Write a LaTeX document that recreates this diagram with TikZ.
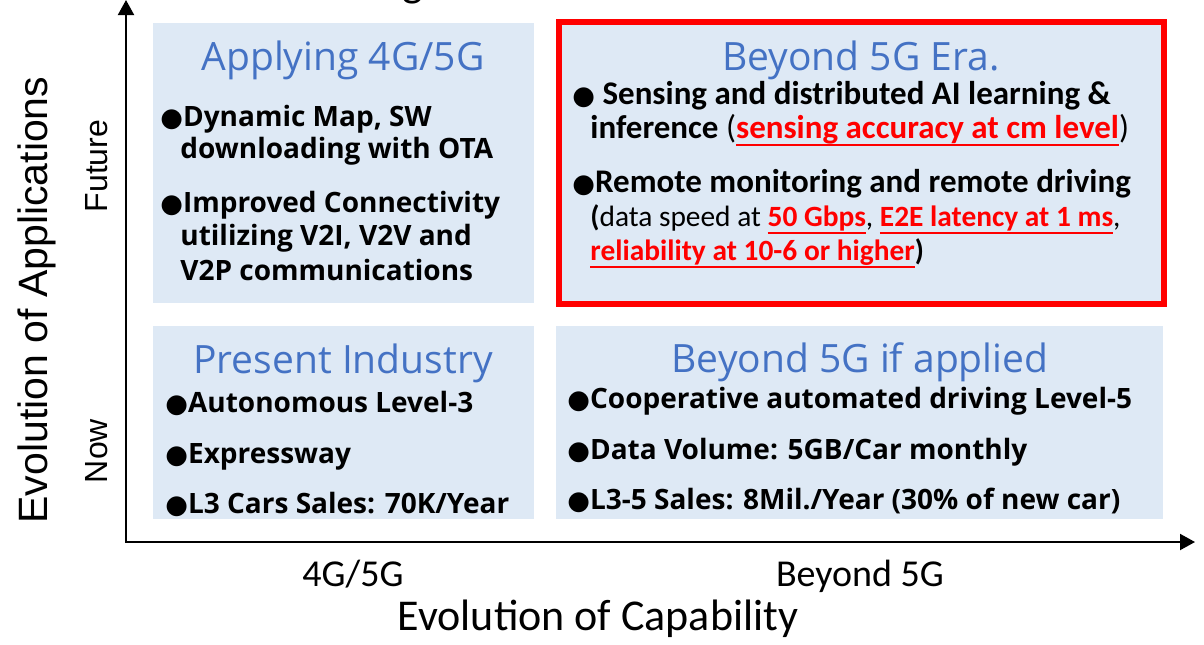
\documentclass[tikz,border=0pt]{standalone}
\usepackage{fontspec}
\usetikzlibrary{arrows.meta,fit}
\setmainfont{Open Sans}
\newfontfamily\calib{Carlito}
\newfontfamily\arialf{Liberation Sans}
\newfontfamily\symf{DejaVu Sans}
\definecolor{boxfill}{RGB}{222,233,245}
\definecolor{titleblue}{RGB}{68,114,196}
\definecolor{hot}{RGB}{255,0,0}
\newcommand\bul{{\symf\fontsize{13}{13}\selectfont ●}}
\newcommand\hl[1]{\textcolor{hot}{\setbox0\hbox{#1}\rlap{\rule[-4pt]{\wd0}{1pt}}\box0}}

\begin{document}
\begin{tikzpicture}[x=0.5pt,y=-0.5pt,
  panel/.style={fill=boxfill,draw=none,inner sep=0pt},
  ttl/.style={text=titleblue,font=\fontsize{19.5}{23}\selectfont,anchor=base,inner sep=0pt},
  itm/.style={font=\bfseries\fontsize{14}{17}\selectfont,anchor=base west,inner sep=0pt},
  ritm/.style={font=\calib\bfseries\fontsize{16.5}{20}\selectfont,anchor=base west,inner sep=0pt},
  rsub/.style={ritm,font=\calib\bfseries\fontsize{14.7}{18}\selectfont},
  axlbl/.style={font=\calib\fontsize{19}{23}\selectfont,anchor=base,inner sep=0pt},
  vlbl/.style={font=\arialf\fontsize{16}{19}\selectfont,anchor=base,rotate=90,inner sep=0pt},
  axisline/.style={line width=1pt,{Triangle[length=7.5pt,width=8pt]}-{Triangle[length=7.5pt,width=8pt]}}
]
\useasboundingbox (0,0) rectangle (1204,644);

% heading above the chart, cut by the page edge
\node[font=\calib\fontsize{22}{26}\selectfont,anchor=base,inner sep=0pt] (head) at (413,-4) {g};

% axes
\coordinate (ytip) at (126,0);
\coordinate (origin) at (126,542);
\coordinate (xtip) at (1195,542);
\draw[axisline] (ytip) -- (origin) -- (xtip);

% quadrants
\node[panel,fit={(153,23)(534,303)}] (tl) {};
\node[panel,draw=hot,line width=3pt,fit={(559,22)(1164,304)}] (tr) {};
\node[panel,fit={(153,326)(534,519)}] (bl) {};
\node[panel,fit={(556,326)(1163,519)}] (br) {};

% top left: Applying 4G/5G
\node[ttl] (tlt) at (343,70) {Applying 4G/5G};
\node[itm] (tl1) at (160,126) {\bul Dynamic Map, SW};
\node[itm] (tl2) at (180,158) {downloading with OTA};
\node[itm] (tl3) at (160,212) {\bul Improved Connectivity};
\node[itm] (tl4) at (180,245) {utilizing V2I, V2V and};
\node[itm] (tl5) at (180,280) {V2P communications};

% top right: Beyond 5G Era.
\node[ttl] (trt) at (861,70) {Beyond 5G Era.};
\node[ritm] (tr1) at (572,104) {\bul\ Sensing and distributed AI learning \&};
\node[ritm] (tr2) at (590,138) {inference {\mdseries(}\hl{sensing accuracy at cm level}{\mdseries)}};
\node[ritm] (tr3) at (572,192) {\bul Remote monitoring and remote driving};
\node[rsub] (tr4) at (590,226) {(\mdseries data speed at \bfseries\hl{50 Gbps}\mdseries, \bfseries\hl{E2E latency at 1 ms}\mdseries,};
\node[rsub] (tr5) at (590,260) {\hl{reliability at 10-6 or higher})};

% bottom left: Present Industry
\node[ttl] (blt) at (343,373) {Present Industry};
\node[itm] (bl1) at (165,412) {\bul Autonomous Level-3};
\node[itm] (bl2) at (165,463) {\bul Expressway};
\node[itm] (bl3) at (165,513) {\bul L3 Cars Sales: 70K/Year};

% bottom right: Beyond 5G if applied
\node[ttl] (brt) at (860,372) {Beyond 5G if applied};
\node[itm] (br1) at (567,408) {\bul Cooperative automated driving Level-5};
\node[itm] (br2) at (567,459) {\bul Data Volume: 5GB/Car monthly};
\node[itm] (br3) at (567,509) {\bul L3-5 Sales: 8Mil./Year (30\% of new car)};

% axis labels
\node[axlbl] (x1) at (353,586) {4G/5G};
\node[axlbl] (x2) at (860,586) {Beyond 5G};
\node[axlbl,font=\calib\fontsize{22}{26}\selectfont] (xt) at (598,630) {Evolution of Capability};
\node[vlbl,font=\arialf\fontsize{20.5}{24}\selectfont] (yt) at (47,300) {Evolution of Applications};
\node[vlbl] (y2) at (107,166) {Future};
\node[vlbl] (y1) at (107,451) {Now};
\end{tikzpicture}
\end{document}
